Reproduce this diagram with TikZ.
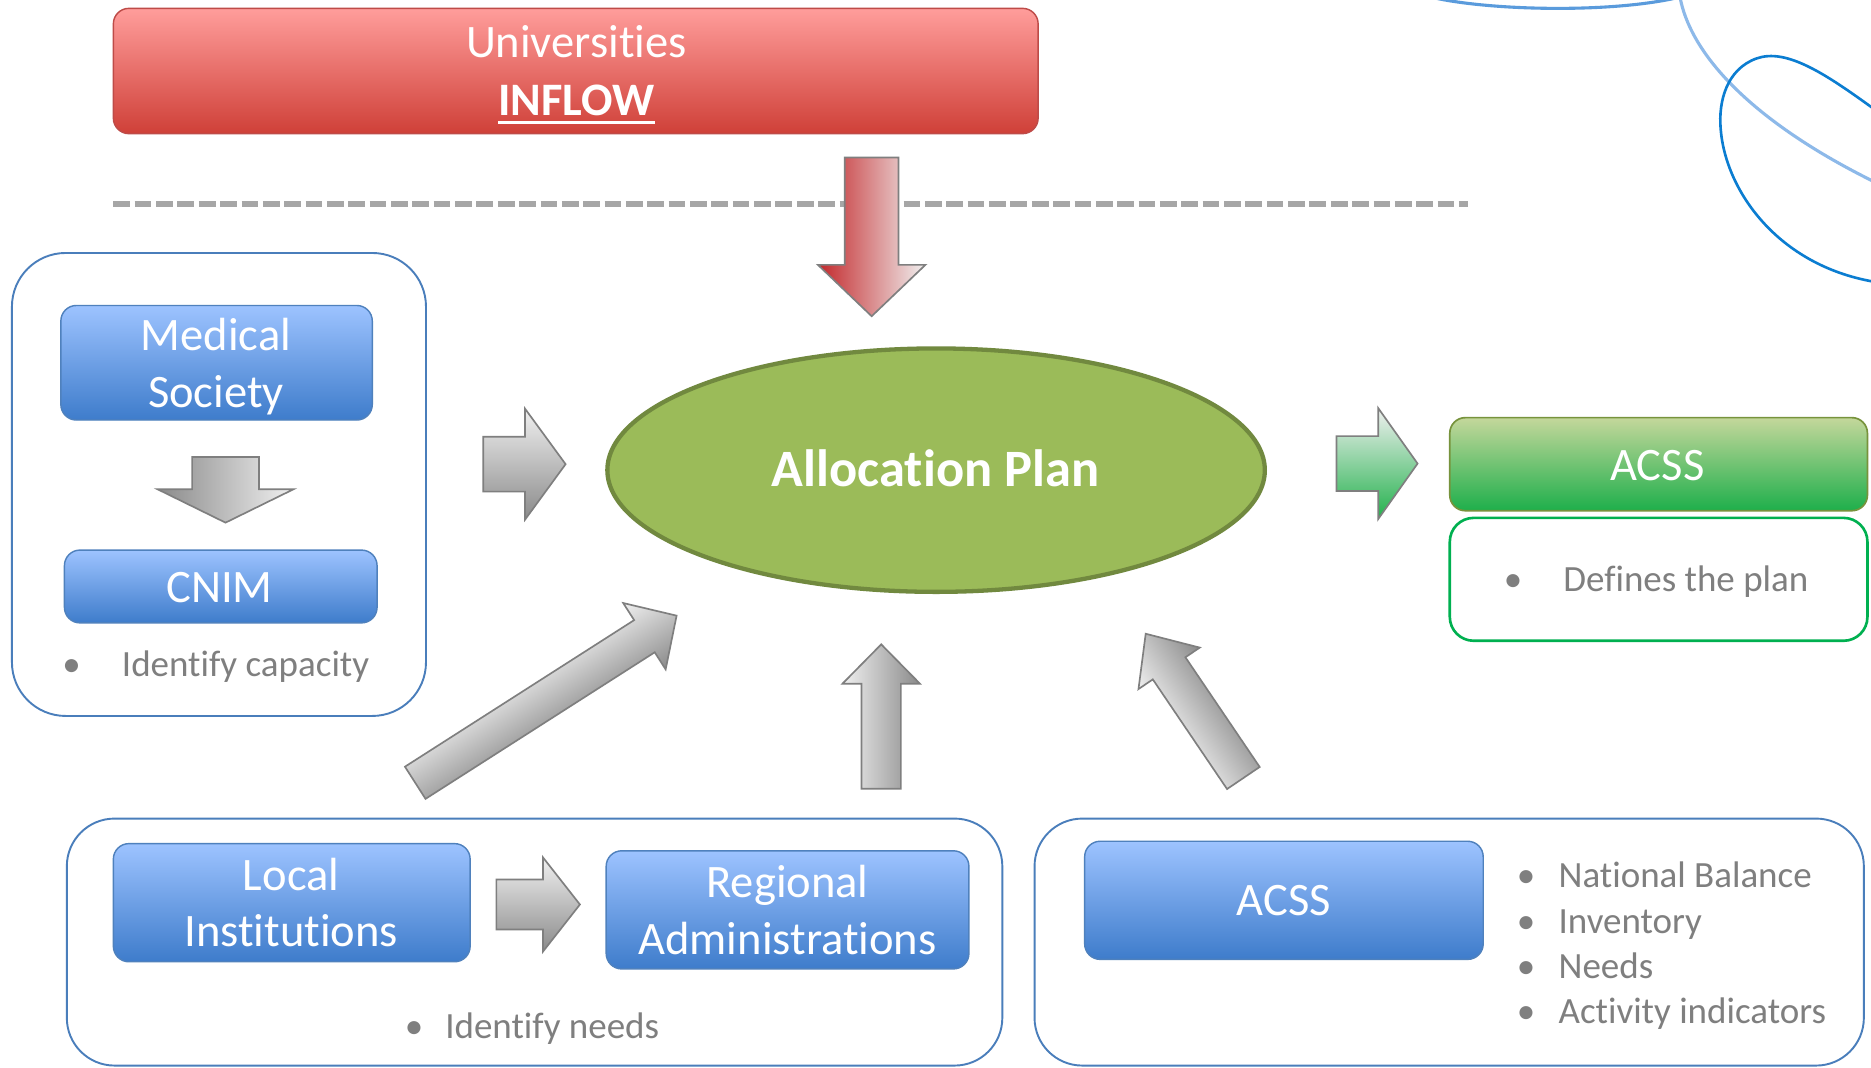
\documentclass[tikz,border=0pt]{standalone}
\usepackage{fontspec}
\setmainfont{Carlito}[Ligatures={NoCommon}]
\usetikzlibrary{shapes.geometric}
\definecolor{boxtop}{HTML}{9DC3FF}
\definecolor{boxbot}{HTML}{3E7CCB}
\definecolor{boxedge}{HTML}{4F81BD}
\definecolor{framecol}{HTML}{4A7EBB}
\definecolor{redtop}{HTML}{FF9D9B}
\definecolor{redbot}{HTML}{CF4038}
\definecolor{rededge}{HTML}{BE4B48}
\definecolor{grntop}{HTML}{C4D79B}
\definecolor{grnbot}{HTML}{1EAF4B}
\definecolor{grnedge}{HTML}{77933C}
\definecolor{grnline}{HTML}{00B050}
\definecolor{planfill}{HTML}{9BBB59}
\definecolor{planedge}{HTML}{71893F}
\definecolor{txtgray}{HTML}{7F7F7F}
\definecolor{dashgray}{HTML}{A6A6A6}
\definecolor{arlight}{HTML}{F0F0F0}
\definecolor{ardark}{HTML}{8A8A8A}
\definecolor{arred}{HTML}{C3282B}
\definecolor{argreen}{HTML}{22B14C}
\definecolor{aredge}{HTML}{7F7F7F}
\definecolor{swirlA}{HTML}{5A9BDC}
\definecolor{swirlB}{HTML}{8DB9E9}
\definecolor{swirlC}{HTML}{0B7DD1}
% block arrow: #1 tail centre, #2 angle, #3 length, #4 half shaft, #5 half head, #6 head length, #7 dark colour, #8 light colour
\newcommand{\blockarr}[8]{%
  \begin{scope}[transform canvas={shift={#1},rotate=#2}]
    \path[arrowshape, top color=#8, bottom color=#7]
      (0,-#4) -- (#3-#6,-#4) -- (#3-#6,-#5) -- (#3,0) -- (#3-#6,#5) -- (#3-#6,#4) -- (0,#4) -- cycle;
  \end{scope}}
\begin{document}
\begin{tikzpicture}[x=1pt,y=-1pt,
  arrowshape/.style={draw=aredge, line width=1.4pt, line join=miter},
  bluebox/.style={rectangle, rounded corners=13pt, draw=boxedge, line width=1.2pt, top color=boxtop, bottom color=boxbot, inner sep=0pt},
  container/.style={rectangle, draw=framecol, line width=1.6pt, fill=white, inner sep=0pt},
  wtext/.style={text=white, font=\fontsize{39}{47}\selectfont, inner sep=0pt, anchor=base},
  gtext/.style={text=txtgray, font=\fontsize{31}{37}\selectfont, inner sep=0pt, anchor=base west},
  bullet/.style={text=txtgray, font=\fontsize{31}{37}\selectfont, inner sep=0pt, anchor=base}
]
\useasboundingbox[fill=white] (0,0) rectangle (1568,895);

% decorative swirls
\draw[swirlA, line width=2.6pt] (1201,-2) .. controls (1250,9) and (1350,11) .. (1406,-2);
\draw[swirlB, line width=2.6pt] (1408,-2) .. controls (1418,50) and (1475,105) .. (1570,152);
\draw[swirlC, line width=2.2pt] (1570,91) .. controls (1530,62) and (1497,40) .. (1472,49)
   .. controls (1447,58) and (1440,85) .. (1442,108)
   .. controls (1446,160) and (1490,222) .. (1570,236);

% top red box
\node[rectangle, rounded corners=13pt, draw=rededge, line width=1.2pt, top color=redtop, bottom color=redbot,
      minimum width=775pt, minimum height=105pt, inner sep=0pt] (univ) at (482.5,59.5) {};
\node[wtext] (univT) at (483,48.5) {Universities};
\node[wtext, font=\bfseries\fontsize{39}{47}\selectfont] (inflowT) at (483,96.5) {INFLOW};
\draw[white, line width=3pt] ([yshift=-6pt]inflowT.base west) -- ([yshift=-6pt]inflowT.base east);

% dashed separator
\coordinate (dashL) at (95,171);
\coordinate (dashR) at (1230,171);
\draw[dashgray, line width=4.5pt, dash pattern=on 14pt off 3.9pt] (dashL) -- (dashR);

% red arrow down
\blockarr{(730.5,132)}{-90}{133}{22.5}{45}{43}{arred}{arlight}

% left container
\node[container, rounded corners=45pt, minimum width=347pt, minimum height=388pt] (leftbox) at (183.5,406) {};
\node[bluebox, minimum width=261pt, minimum height=96pt] (medical) at (181.5,304) {};
\node[wtext] (medT1) at (181,293.5) {Medical};
\node[wtext] (medT2) at (181,341.5) {Society};
\blockarr{(189,383)}{-90}{55}{28}{57}{28}{ardark}{arlight}
\node[bluebox, minimum width=262pt, minimum height=61pt] (cnim) at (185,491.5) {};
\node[wtext] (cnimT) at (184,504.5) {CNIM};
\node[bullet] (b1) at (60,567) {•};
\node[gtext] (capT) at (102,567) {Identify capacity};

% arrow left container -> plan
\blockarr{(405,389)}{0}{69}{23}{46.5}{34}{ardark}{arlight}

% ellipse
\node[ellipse, fill=planfill, draw=planedge, line width=3.6pt, minimum width=551pt, minimum height=204pt, inner sep=0pt] (plan) at (784.5,394) {};
\node[wtext, font=\bfseries\fontsize{44}{52}\selectfont] (planT) at (784,408) {Allocation Plan};

% arrow plan -> ACSS (green)
\blockarr{(1120,388.5)}{0}{68}{23}{46.5}{33}{argreen}{arlight}
\node[rectangle, rounded corners=13pt, draw=grnedge, line width=1.4pt, top color=grntop, bottom color=grnbot,
      minimum width=350pt, minimum height=78pt, inner sep=0pt] (acssG) at (1390,389) {};
\node[wtext] (acssGT) at (1389,402.5) {ACSS};
\node[rectangle, rounded corners=20pt, draw=grnline, line width=2.2pt, fill=white,
      minimum width=350pt, minimum height=103pt, inner sep=0pt] (defbox) at (1390,485.5) {};
\node[bullet] (b2) at (1268,496) {•};
\node[gtext] (defT) at (1310,496) {Defines the plan};

% arrows from bottom
\blockarr{(348,656)}{32.6}{260}{16}{33}{32}{ardark}{arlight}
\blockarr{(738.5,661)}{90}{121}{16.5}{32.5}{33}{ardark}{arlight}
\blockarr{(1042,652)}{124.1}{146}{16.5}{31}{35}{ardark}{arlight}

% bottom-left container
\node[container, rounded corners=40pt, minimum width=784pt, minimum height=207pt] (botL) at (448,789.5) {};
\node[bluebox, minimum width=299pt, minimum height=99pt] (local) at (244.5,756.5) {};
\node[wtext] (locT1) at (244,746.5) {Local};
\node[wtext] (locT2) at (244,793.5) {Institutions};
\blockarr{(416,758)}{0}{70}{21}{39.5}{31}{ardark}{arlight}
\node[bluebox, minimum width=304pt, minimum height=99pt] (regional) at (660,762.5) {};
\node[wtext] (regT1) at (660,752.5) {Regional};
\node[wtext] (regT2) at (660,799.5) {Administrations};
\node[bullet] (b3) at (347,870) {•};
\node[gtext] (needT) at (373,870) {Identify needs};

% bottom-right container
\node[container, rounded corners=40pt, minimum width=695pt, minimum height=207pt] (botR) at (1214.5,789.5) {};
\node[bluebox, minimum width=334pt, minimum height=99pt] (acssB) at (1076,754.5) {};
\node[wtext] (acssBT) at (1076,767.5) {ACSS};
\node[bullet] (b4) at (1279,744) {•};
\node[gtext] (l1) at (1306,744) {National Balance};
\node[bullet] (b5) at (1279,782) {•};
\node[gtext] (l2) at (1306,782) {Inventory};
\node[bullet] (b6) at (1279,820) {•};
\node[gtext] (l3) at (1306,820) {Needs};
\node[bullet] (b7) at (1279,858) {•};
\node[gtext] (l4) at (1306,858) {Activity indicators};
\end{tikzpicture}
\end{document}
